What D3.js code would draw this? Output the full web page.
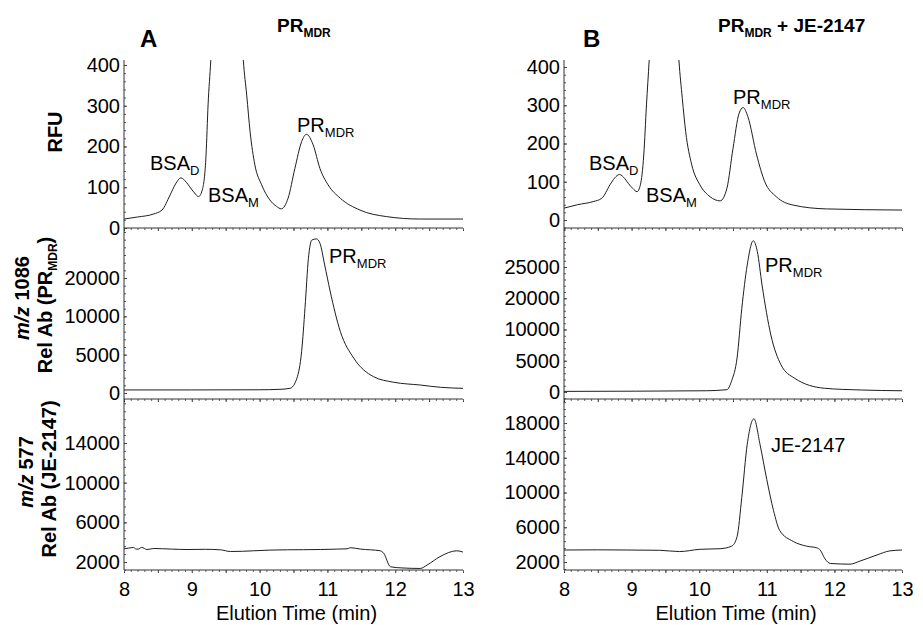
<!DOCTYPE html>
<html>
<head>
<meta charset="utf-8">
<script src="https://cdn.jsdelivr.net/npm/d3@7"></script>
<style>
body { margin: 0; background: #fff; }
text { font-family: "Liberation Sans", Arial, sans-serif; fill: #000; }
</style>
</head>
<body>
<svg id="chart" width="923" height="625"></svg>
<script>
// elution time axis (min)
var timeTicks = [8, 9, 10, 11, 12, 13];

// y tick labels, as printed on the figure
var rfuTicksA = [0, 100, 200, 300, 400];
var rfuTicksB = [0, 100, 200, 300, 400];
var ms1086TicksA = [0, 5000, 10000, 20000];
var ms1086TicksB = [0, 5000, 10000, 20000, 25000];
var ms577TicksA = [2000, 6000, 10000, 14000];
var ms577TicksB = [2000, 6000, 10000, 14000, 18000];

// traces: [elution time, signal]
// fluorescence, PR_MDR alone
var rfuA = [[8.00,22],[8.20,27],[8.43,34],[8.56,44],[8.68,81],[8.76,108],[8.84,123],[8.92,112],[8.97,101],[9.04,86],[9.10,77],[9.16,97],[9.21,179],[9.24,302],[9.28,412],[9.40,900],[9.52,1400],[9.64,900],[9.76,412],[9.81,326],[9.86,236],[9.93,155],[10.03,106],[10.15,69],[10.25,53],[10.32,47],[10.42,73],[10.52,146],[10.62,212],[10.69,230],[10.79,204],[10.89,146],[11.01,106],[11.19,73],[11.48,44],[11.87,28],[12.37,22],[13.00,22]];
// fluorescence, PR_MDR + JE-2147
var rfuB = [[8.00,31],[8.20,40],[8.43,48],[8.56,57],[8.68,92],[8.75,110],[8.82,119],[8.90,108],[8.95,96],[9.02,82],[9.08,74],[9.13,92],[9.18,170],[9.22,301],[9.26,418],[9.38,900],[9.48,1400],[9.58,900],[9.70,418],[9.75,318],[9.80,231],[9.89,144],[10.01,92],[10.16,61],[10.31,50],[10.41,83],[10.50,187],[10.59,279],[10.65,294],[10.72,270],[10.85,170],[10.97,100],[11.14,61],[11.39,39],[11.88,29],[13.00,26]];
// m/z 1086
var ms1086A = [[8.00,400],[9.00,400],[10.00,420],[10.30,480],[10.45,610],[10.55,1920],[10.62,5430],[10.67,12270],[10.72,25140],[10.77,29900],[10.84,30200],[10.89,29060],[10.96,23400],[11.04,16600],[11.19,8040],[11.39,4530],[11.68,2130],[11.98,1400],[12.37,1040],[12.67,740],[13.00,610]];
var ms1086B = [[8.00,100],[10.11,200],[10.41,370],[10.48,1800],[10.56,5430],[10.63,16700],[10.71,25300],[10.80,29200],[10.86,27470],[10.93,22100],[11.06,9130],[11.21,4350],[11.41,2210],[11.85,600],[12.40,320],[13.00,200]];
// m/z 577
var ms577A = [[8.00,3330],[8.07,3400],[8.14,3470],[8.18,3300],[8.21,3300],[8.26,3470],[8.34,3260],[8.44,3360],[8.70,3300],[8.93,3260],[9.20,3280],[9.42,3230],[9.57,3060],[9.75,3080],[9.91,3130],[10.15,3200],[10.41,3230],[10.65,3240],[10.90,3260],[11.15,3300],[11.29,3330],[11.34,3440],[11.49,3300],[11.78,3130],[11.83,2890],[11.93,1520],[12.10,1400],[12.37,1350],[12.47,1690],[12.66,2540],[12.91,3130],[13.00,3000]];
var ms577B = [[8.00,3380],[8.50,3400],[8.92,3380],[9.41,3350],[9.71,3200],[10.01,3460],[10.31,3530],[10.48,3820],[10.56,4910],[10.63,9430],[10.71,15520],[10.81,18490],[10.90,15520],[11.00,11480],[11.10,7910],[11.19,5640],[11.39,4370],[11.59,3820],[11.74,3630],[11.79,3380],[11.86,2370],[11.94,1830],[12.23,1750],[12.38,2110],[12.63,2810],[12.82,3280],[13.00,3380]];

var svg = d3.select("#chart");
var font = '"Liberation Sans", Arial, sans-serif';

// layout of the 2 x 3 grid
var cols = [{x0: 124, x1: 463}, {x0: 564, x1: 902}];
var rows = [{top: 60, bottom: 228}, {top: 228, bottom: 399}, {top: 399, bottom: 570}];

// p0 / p1 = pixel of first / last tick label (labels are evenly spaced)
var panels = [
    {col: 0, row: 0, data: rfuA, ticks: rfuTicksA, p0: 228, p1: 65},
    {col: 1, row: 0, data: rfuB, ticks: rfuTicksB, p0: 220, p1: 67},
    {col: 0, row: 1, data: ms1086A, ticks: ms1086TicksA, p0: 393, p1: 278},
    {col: 1, row: 1, data: ms1086B, ticks: ms1086TicksB, p0: 392, p1: 267},
    {col: 0, row: 2, data: ms577A, ticks: ms577TicksA, p0: 562, p1: 443},
    {col: 1, row: 2, data: ms577B, ticks: ms577TicksB, p0: 562, p1: 423}
];

// minor tick values: 5 steps between printed ticks, carried on past the ends
function minorTicks(y, ticks, top, bottom) {
    var out = [];
    for (var i = 0; i < ticks.length - 1; i++) {
        var step = (ticks[i + 1] - ticks[i]) / 5;
        for (var k = 0; k < 5; k++) out.push(ticks[i] + k * step);
    }
    var last = ticks[ticks.length - 1];
    var s1 = (last - ticks[ticks.length - 2]) / 5;
    for (var v = last; y(v) >= top; v += s1) out.push(v);
    var s0 = (ticks[1] - ticks[0]) / 5;
    for (var w = ticks[0] - s0; y(w) <= bottom; w -= s0) out.push(w);
    return out;
}

panels.forEach(function(p, i) {
    var c = cols[p.col], r = rows[p.row];

    var x = d3.scaleLinear()
        .domain([8, 13])
        .range([c.x0, c.x1]);

    // piecewise scale so the printed tick labels sit where the figure has them
    var y = d3.scaleLinear()
        .domain(p.ticks)
        .range(d3.quantize(d3.interpolate(p.p0, p.p1), p.ticks.length));

    svg.append("clipPath")
        .attr("id", "clip" + i)
      .append("rect")
        .attr("x", c.x0)
        .attr("y", r.top)
        .attr("width", c.x1 - c.x0)
        .attr("height", r.bottom - r.top);

    // trace
    svg.append("path")
        .datum(p.data)
        .attr("clip-path", "url(#clip" + i + ")")
        .attr("fill", "none")
        .attr("stroke", "#1e1e1e")
        .attr("stroke-width", 1)
        .attr("d", d3.line()
            .x(function(d) { return x(d[0]); })
            .y(function(d) { return y(d[1]); })
            .curve(d3.curveMonotoneX));

    // left axis
    var gy = svg.append("g")
        .attr("transform", "translate(" + c.x0 + ",0)")
        .call(d3.axisLeft(y).tickValues(p.ticks).tickFormat(d3.format("d")).tickSize(-3).tickPadding(4));
    gy.select(".domain").remove();
    gy.selectAll("text").attr("font-size", 20).attr("font-family", font).style("fill", "#000");
    gy.selectAll("line").attr("stroke", "#333");

    var gyMinor = svg.append("g")
        .attr("transform", "translate(" + c.x0 + ",0)")
        .call(d3.axisLeft(y).tickValues(minorTicks(y, p.ticks, r.top, r.bottom)).tickSize(-2).tickFormat(""));
    gyMinor.select(".domain").remove();
    gyMinor.selectAll("line").attr("stroke", "#555");

    svg.append("line")
        .attr("x1", c.x0).attr("x2", c.x0)
        .attr("y1", r.top).attr("y2", r.bottom)
        .attr("stroke", "#333");

    // bottom axis
    var gx = svg.append("g")
        .attr("transform", "translate(0," + r.bottom + ")")
        .call(d3.axisBottom(x).tickValues(d3.range(8, 13.01, 0.5)).tickSize(3).tickFormat(""));
    gx.select(".domain").remove();
    gx.selectAll("line").attr("stroke", "#333");

    var gxMinor = svg.append("g")
        .attr("transform", "translate(0," + r.bottom + ")")
        .call(d3.axisBottom(x).tickValues(d3.range(8, 13.01, 0.1)).tickSize(2).tickFormat(""));
    gxMinor.select(".domain").remove();
    gxMinor.selectAll("line").attr("stroke", "#666");

    svg.append("line")
        .attr("x1", c.x0).attr("x2", c.x1)
        .attr("y1", r.bottom).attr("y2", r.bottom)
        .attr("stroke", "#333");

    // time labels only under the last row
    if (p.row == 2) {
        var gl = svg.append("g")
            .attr("transform", "translate(0," + r.bottom + ")")
            .call(d3.axisBottom(x).tickValues(timeTicks).tickFormat(d3.format("d")).tickSize(0).tickPadding(12));
        gl.select(".domain").remove();
        gl.selectAll("text").attr("font-size", 20).attr("font-family", font).style("fill", "#000");

        svg.append("text")
            .attr("x", (c.x0 + c.x1) / 2 + 3)
            .attr("y", 620)
            .attr("text-anchor", "middle")
            .attr("font-size", 20)
            .text("Elution Time (min)");
    }
});

// text with a subscript, optional trailing text
function subText(x, y, main, sub, tail, size, subSize, bold) {
    var t = svg.append("text")
        .attr("x", x)
        .attr("y", y)
        .attr("font-size", size)
        .attr("font-weight", bold ? "bold" : "normal");
    t.append("tspan").text(main);
    t.append("tspan").attr("font-size", subSize).attr("dy", 5).text(sub);
    if (tail) t.append("tspan").attr("dy", -5).text(tail);
    return t;
}

// panel letters and titles
svg.append("text").attr("x", 140).attr("y", 47).attr("font-size", 24).attr("font-weight", "bold").text("A");
svg.append("text").attr("x", 583).attr("y", 47).attr("font-size", 24).attr("font-weight", "bold").text("B");
subText(277, 32, "PR", "MDR", null, 19, 12, true);
subText(718, 32, "PR", "MDR", " + JE-2147", 19, 12, true);

// peak labels
subText(150, 170, "BSA", "D", null, 20, 13, false);
subText(208, 202, "BSA", "M", null, 20, 13, false);
subText(297, 132, "PR", "MDR", null, 20, 13, false);
subText(329, 263, "PR", "MDR", null, 20, 13, false);
subText(589, 170, "BSA", "D", null, 20, 13, false);
subText(646, 202, "BSA", "M", null, 20, 13, false);
subText(733, 104, "PR", "MDR", null, 20, 13, false);
subText(765, 272, "PR", "MDR", null, 20, 13, false);
svg.append("text").attr("x", 771).attr("y", 452).attr("font-size", 20).text("JE-2147");

// rotated y titles
function yTitle(x, y) {
    return svg.append("text")
        .attr("transform", "translate(" + x + "," + y + ") rotate(-90)")
        .attr("text-anchor", "middle")
        .attr("font-size", 20)
        .attr("font-weight", "bold");
}
yTitle(62, 132).text("RFU");

var t1 = yTitle(29, 298);
t1.append("tspan").attr("font-style", "italic").text("m/z");
t1.append("tspan").attr("dx", 6).text("1086");

var t2 = yTitle(52, 305);
t2.append("tspan").text("Rel Ab (PR");
t2.append("tspan").attr("font-size", 12).attr("dy", 5).text("MDR");
t2.append("tspan").attr("dy", -5).text(")");

var t3 = yTitle(33, 472);
t3.append("tspan").attr("font-style", "italic").text("m/z");
t3.append("tspan").attr("dx", 5).text("577");

yTitle(56, 479).text("Rel Ab (JE-2147)");
</script>
</body>
</html>
